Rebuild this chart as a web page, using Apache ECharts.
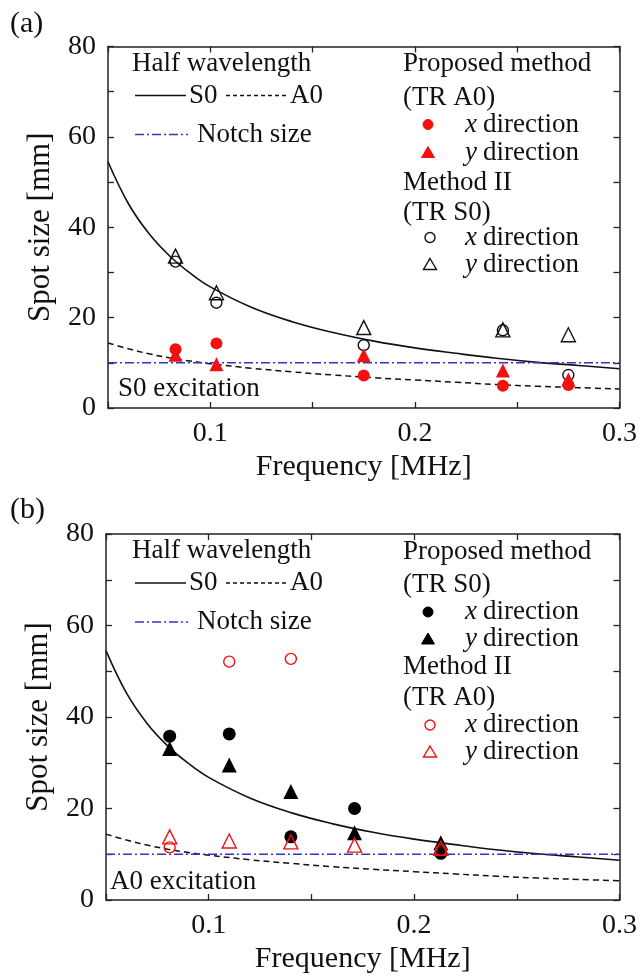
<!DOCTYPE html>
<html><head><meta charset="utf-8">
<script src="https://cdn.jsdelivr.net/npm/echarts@6/dist/echarts.min.js"></script>
<style>html,body{margin:0;padding:0;background:#fff}#c{width:640px;height:976px}</style>
</head><body><div id="c"></div>
<script>
// ---- data ----
const curveFreq = [0.05,0.06,0.07,0.08,0.09,0.1,0.12,0.14,0.16,0.18,0.2,0.22,0.24,0.26,0.28,0.3];
const halfS0 = [54.5,45.2,38.6,33.7,29.9,26.8,22.3,19.1,16.7,14.8,13.3,12.1,11.0,10.1,9.4,8.7];
const halfA0 = [14.4,13.1,12.0,11.1,10.4,9.8,8.8,8.0,7.3,6.7,6.2,5.7,5.2,4.8,4.5,4.2];
const notchFreq = [0.05,0.3];
const notchSize = [10,10];

// (a) S0 excitation
const freqA = [0.083,0.103,0.175,0.243,0.275];
const aPropX = [13.0,14.3,7.2,4.9,5.1];
const aPropY = [11.8,9.7,11.7,8.3,6.3];
const aM2X = [32.4,23.3,13.9,17.2,7.3];
const aM2Y = [33.6,25.5,17.8,17.3,16.2];

// (b) A0 excitation
const freqB = [0.081,0.110,0.140,0.171,0.213];
const bPropX = [35.8,36.3,13.8,20.0,10.2];
const bPropY = [33.1,29.5,23.7,14.7,12.5];
const bM2X = [11.5,52.1,52.7,null,10.9];
const bM2Y = [13.8,12.9,12.7,12.0,11.3];

const xTicks = [0.1,0.2,0.3];
const yTicks = [0,20,40,60,80];

const FONT = '"Liberation Serif", "DejaVu Serif", serif';
const RED = '#f21010';
const BLUE = '#3434c8';

function pairs(xs, ys){ const out=[]; xs.forEach((x,i)=>{ if(ys[i]!=null) out.push([x,ys[i]]); }); return out; }

const grids = [
  {left:108, top:46.5, width:513, height:361.5},
  {left:106, top:534, width:514, height:366}
];

const xAxes=[], yAxes=[];
grids.forEach((g,gi)=>{
  const common = {gridIndex:gi, min:0.05, max:0.3, interval:0.05,
    axisLine:{show:true, onZero:false, lineStyle:{color:'#222', width:1.5}},
    axisTick:{show:true, inside:true, length:6, lineStyle:{color:'#222', width:1.3}},
    splitLine:{show:false}};
  xAxes.push(Object.assign({}, common, {type:'value', position:'bottom',
    axisLabel:{margin:12, fontFamily:FONT, fontSize:28, color:'#111',
      formatter:v=>{const r=Math.round(v*100)/100; return xTicks.some(t=>Math.abs(t-r)<1e-6)?r.toFixed(1):'';}},
    name:'Frequency [MHz]', nameLocation:'middle', nameGap:44,
    nameTextStyle:{fontFamily:FONT, fontSize:30, color:'#111'}}));
  xAxes.push(Object.assign({}, common, {type:'value', position:'top', axisLabel:{show:false}}));
  const ycommon = {gridIndex:gi, type:'value', min:0, max:80, interval:10,
    axisLine:{show:true, onZero:false, lineStyle:{color:'#222', width:1.5}},
    axisTick:{show:true, inside:true, length:6, lineStyle:{color:'#222', width:1.3}},
    splitLine:{show:false}};
  yAxes.push(Object.assign({}, ycommon, {position:'left',
    axisLabel:{margin:12, fontFamily:FONT, fontSize:28, color:'#111',
      formatter:v=>yTicks.includes(Math.round(v))?String(Math.round(v)):''},
    name:'Spot size [mm]', nameLocation:'middle', nameGap:52, nameRotate:90,
    nameTextStyle:{fontFamily:FONT, fontSize:31, color:'#111'}}));
  yAxes.push(Object.assign({}, ycommon, {position:'right', axisLabel:{show:false}}));
});

function curves(gi){
  const xi = gi*2, yi = gi*2;
  return [
    {type:'line', xAxisIndex:xi, yAxisIndex:yi, data:pairs(curveFreq,halfS0), smooth:0.4, symbol:'none',
      lineStyle:{color:'#111', width:1.6}, z:2},
    {type:'line', xAxisIndex:xi, yAxisIndex:yi, data:pairs(curveFreq,halfA0), smooth:0.4, symbol:'none',
      lineStyle:{color:'#111', width:1.5, type:[6,4]}, z:2},
    {type:'line', xAxisIndex:xi, yAxisIndex:yi, data:pairs(notchFreq,notchSize), symbol:'none',
      lineStyle:{color:BLUE, width:1.6, type:[9,3,2,3]}, z:2}
  ];
}
function sc(gi, xs, ys, symbol, size, filled, color){
  return {type:'scatter', xAxisIndex:gi*2, yAxisIndex:gi*2, data:pairs(xs,ys), symbol, symbolSize:size,
    itemStyle: filled ? {color, opacity:1} : {color:'rgba(0,0,0,0)', borderColor:color, borderWidth:1.4, opacity:1}, z:5};
}

const series = [
  ...curves(0),
  sc(0, freqA, aM2X, 'circle', 11, false, '#111'),
  sc(0, freqA, aM2Y, 'triangle', 14, false, '#111'),
  sc(0, freqA, aPropY, 'triangle', 14, true, RED),
  sc(0, freqA, aPropX, 'circle', 12, true, RED),
  ...curves(1),
  sc(1, freqB, bPropX, 'circle', 13, true, '#000'),
  sc(1, freqB, bPropY, 'triangle', 15, true, '#000'),
  sc(1, freqB, bM2X, 'circle', 11, false, RED),
  sc(1, freqB, bM2Y, 'triangle', 14, false, RED)
];

// ---- legend (drawn as graphics) ----
const LF = 27;
const graphic = [];
function txt(x,y,text,size,italic){
  graphic.push({type:'text', x, y, style:{text, fontFamily:FONT, fontSize:size||LF, fill:'#111',
    fontStyle: italic ? 'italic' : 'normal', verticalAlign:'middle', align:'left'}});
}
function seg(x1,x2,y,color,dash,w){
  graphic.push({type:'line', shape:{x1,y1:y,x2,y2:y}, style:{stroke:color, lineWidth:w||1.6, lineDash:dash||null}});
}
function mk(x,y,shape,filled,color){
  const st = filled ? {fill:color, stroke:color, lineWidth:1} : {fill:'none', stroke:color, lineWidth:1.4};
  if(shape==='circle') graphic.push({type:'circle', shape:{cx:x,cy:y,r:5}, style:st});
  else graphic.push({type:'polygon', shape:{points:[[x,y-6],[x+6.5,y+5],[x-6.5,y+5]]}, style:st});
}
function dirRow(y, axis){
  txt(465, y, axis, LF, true);
  txt(483, y, 'direction');
}
function legend(top, rows, tr1, tr2, c1, f1, c2, f2){
  txt(132, top+17, 'Half wavelength');
  seg(135, 186, top+49, '#111');
  txt(189, top+49, 'S0');
  seg(226, 287, top+49, '#111', [4,3], 1.4);
  txt(290, top+49, 'A0');
  seg(135, 188, top+88, BLUE, [9,3,2,3]);
  txt(197, top+88, 'Notch size');
  txt(403, top+rows[0], 'Proposed method');
  txt(403, top+rows[1], tr1);
  mk(428, top+rows[2], 'circle', f1, c1); dirRow(top+rows[2], 'x');
  mk(428, top+rows[3], 'tri', f1, c1); dirRow(top+rows[3], 'y');
  txt(403, top+rows[4], 'Method II');
  txt(403, top+rows[5], tr2);
  mk(430, top+rows[6], 'circle', f2, c2); dirRow(top+rows[6], 'x');
  mk(430, top+rows[7], 'tri', f2, c2); dirRow(top+rows[7], 'y');
}
legend(46.5, [17,51,78,106,136,166,191,218], '(TR A0)', '(TR S0)', RED, true, '#111', false);
legend(534, [18,51,78,105,133,164,191,218], '(TR S0)', '(TR A0)', '#000', true, RED, false);
txt(118, 389, 'S0 excitation');
txt(110, 882, 'A0 excitation');
txt(10, 24, '(a)', 30);
txt(10, 510, '(b)', 30);

const chart = echarts.init(document.getElementById('c'), null, {renderer:'canvas'});
chart.setOption({
  animation:false,
  backgroundColor:'#fff',
  grid: grids,
  xAxis: xAxes,
  yAxis: yAxes,
  series,
  graphic
});
</script></body></html>
